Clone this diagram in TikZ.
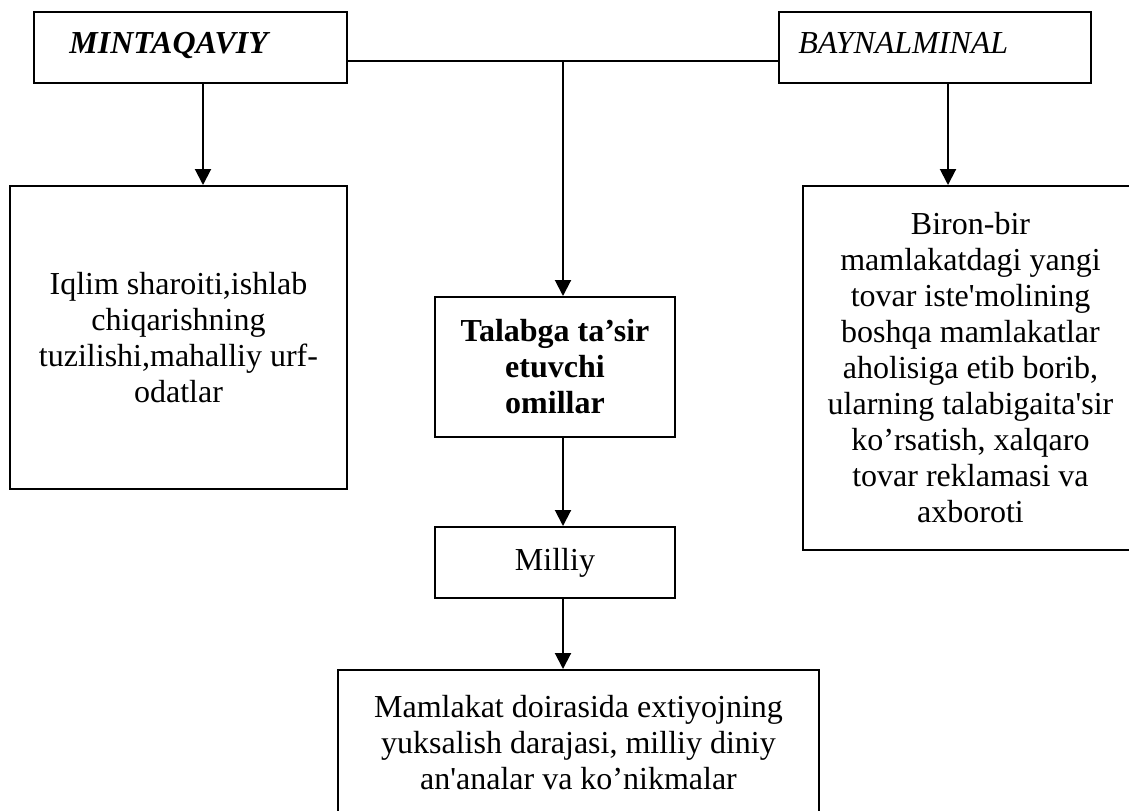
\documentclass[tikz,border=0pt]{standalone}
\usepackage{fontspec}
\newfontfamily\uz{Liberation Serif}
\usetikzlibrary{arrows.meta,fit}
\begin{document}
\begin{tikzpicture}[x=0.5pt,y=-0.5pt,
  box/.style={draw, line width=1pt, inner sep=0pt},
  lbl/.style={inner sep=0pt, align=center, font=\uz\fontsize{16}{18}\selectfont},
  conn/.style={line width=1pt, -{Triangle[width=8pt,length=8pt]}},
  hline/.style={line width=0.8pt}]
\useasboundingbox (0,0) rectangle (1129,810);
% top boxes
\node[box, fit={(34,12) (347,83)}] (a) {};
\node[lbl, anchor=base west, font=\uz\fontsize{16}{18}\selectfont\bfseries\itshape] (at) at (69,53) {MINTAQAVIY};
\node[box, fit={(779,12) (1091,83)}] (b) {};
\node[lbl, anchor=base west, font=\uz\fontsize{16}{18}\selectfont\itshape] (bt) at (798,53) {BAYNALMINAL};
% lower boxes
\node[box, fit={(10,186) (347,489)}] (c) {};
\node[lbl] (ct) at (c.center) {Iqlim sharoiti,ishlab\\chiqarishning\\tuzilishi,mahalliy urf-\\odatlar};
\node[box, fit={(435,297) (675,437)}] (d) {};
\node[lbl, font=\uz\fontsize{16}{18}\selectfont\bfseries] (dt) at (d.center) {Talabga ta’sir\\etuvchi\\omillar};
\node[box, fit={(435,527) (675,598)}] (e) {};
\node[lbl] (et) at (e.center) {Milliy};
\node[box, fit={(338,670) (819,815)}] (f) {};
\node[lbl] (ft) at (f.center) {Mamlakat doirasida extiyojning\\yuksalish darajasi, milliy diniy\\an'analar va ko’nikmalar};
\node[box, fit={(803,186) (1138,550)}] (g) {};
\node[lbl] (gt) at (g.center) {Biron-bir\\mamlakatdagi yangi\\tovar iste'molining\\boshqa mamlakatlar\\aholisiga etib borib,\\ularning talabigaita'sir\\ko’rsatish, xalqaro\\tovar reklamasi va\\axboroti};
% connector helpers
\coordinate (hl) at (563,61);
\coordinate (ax) at (203,0);
\coordinate (bx) at (948,0);
% connectors
\draw[hline] (a.east |- hl) -- (b.west |- hl);
\draw[conn] (hl) -- (d.north -| hl);
\draw[conn] (a.south -| ax) -- (c.north -| ax);
\draw[conn] (b.south -| bx) -- (g.north -| bx);
\draw[conn] (d.south -| hl) -- (e.north -| hl);
\draw[conn] (e.south -| hl) -- (f.north -| hl);
\end{tikzpicture}
\end{document}
